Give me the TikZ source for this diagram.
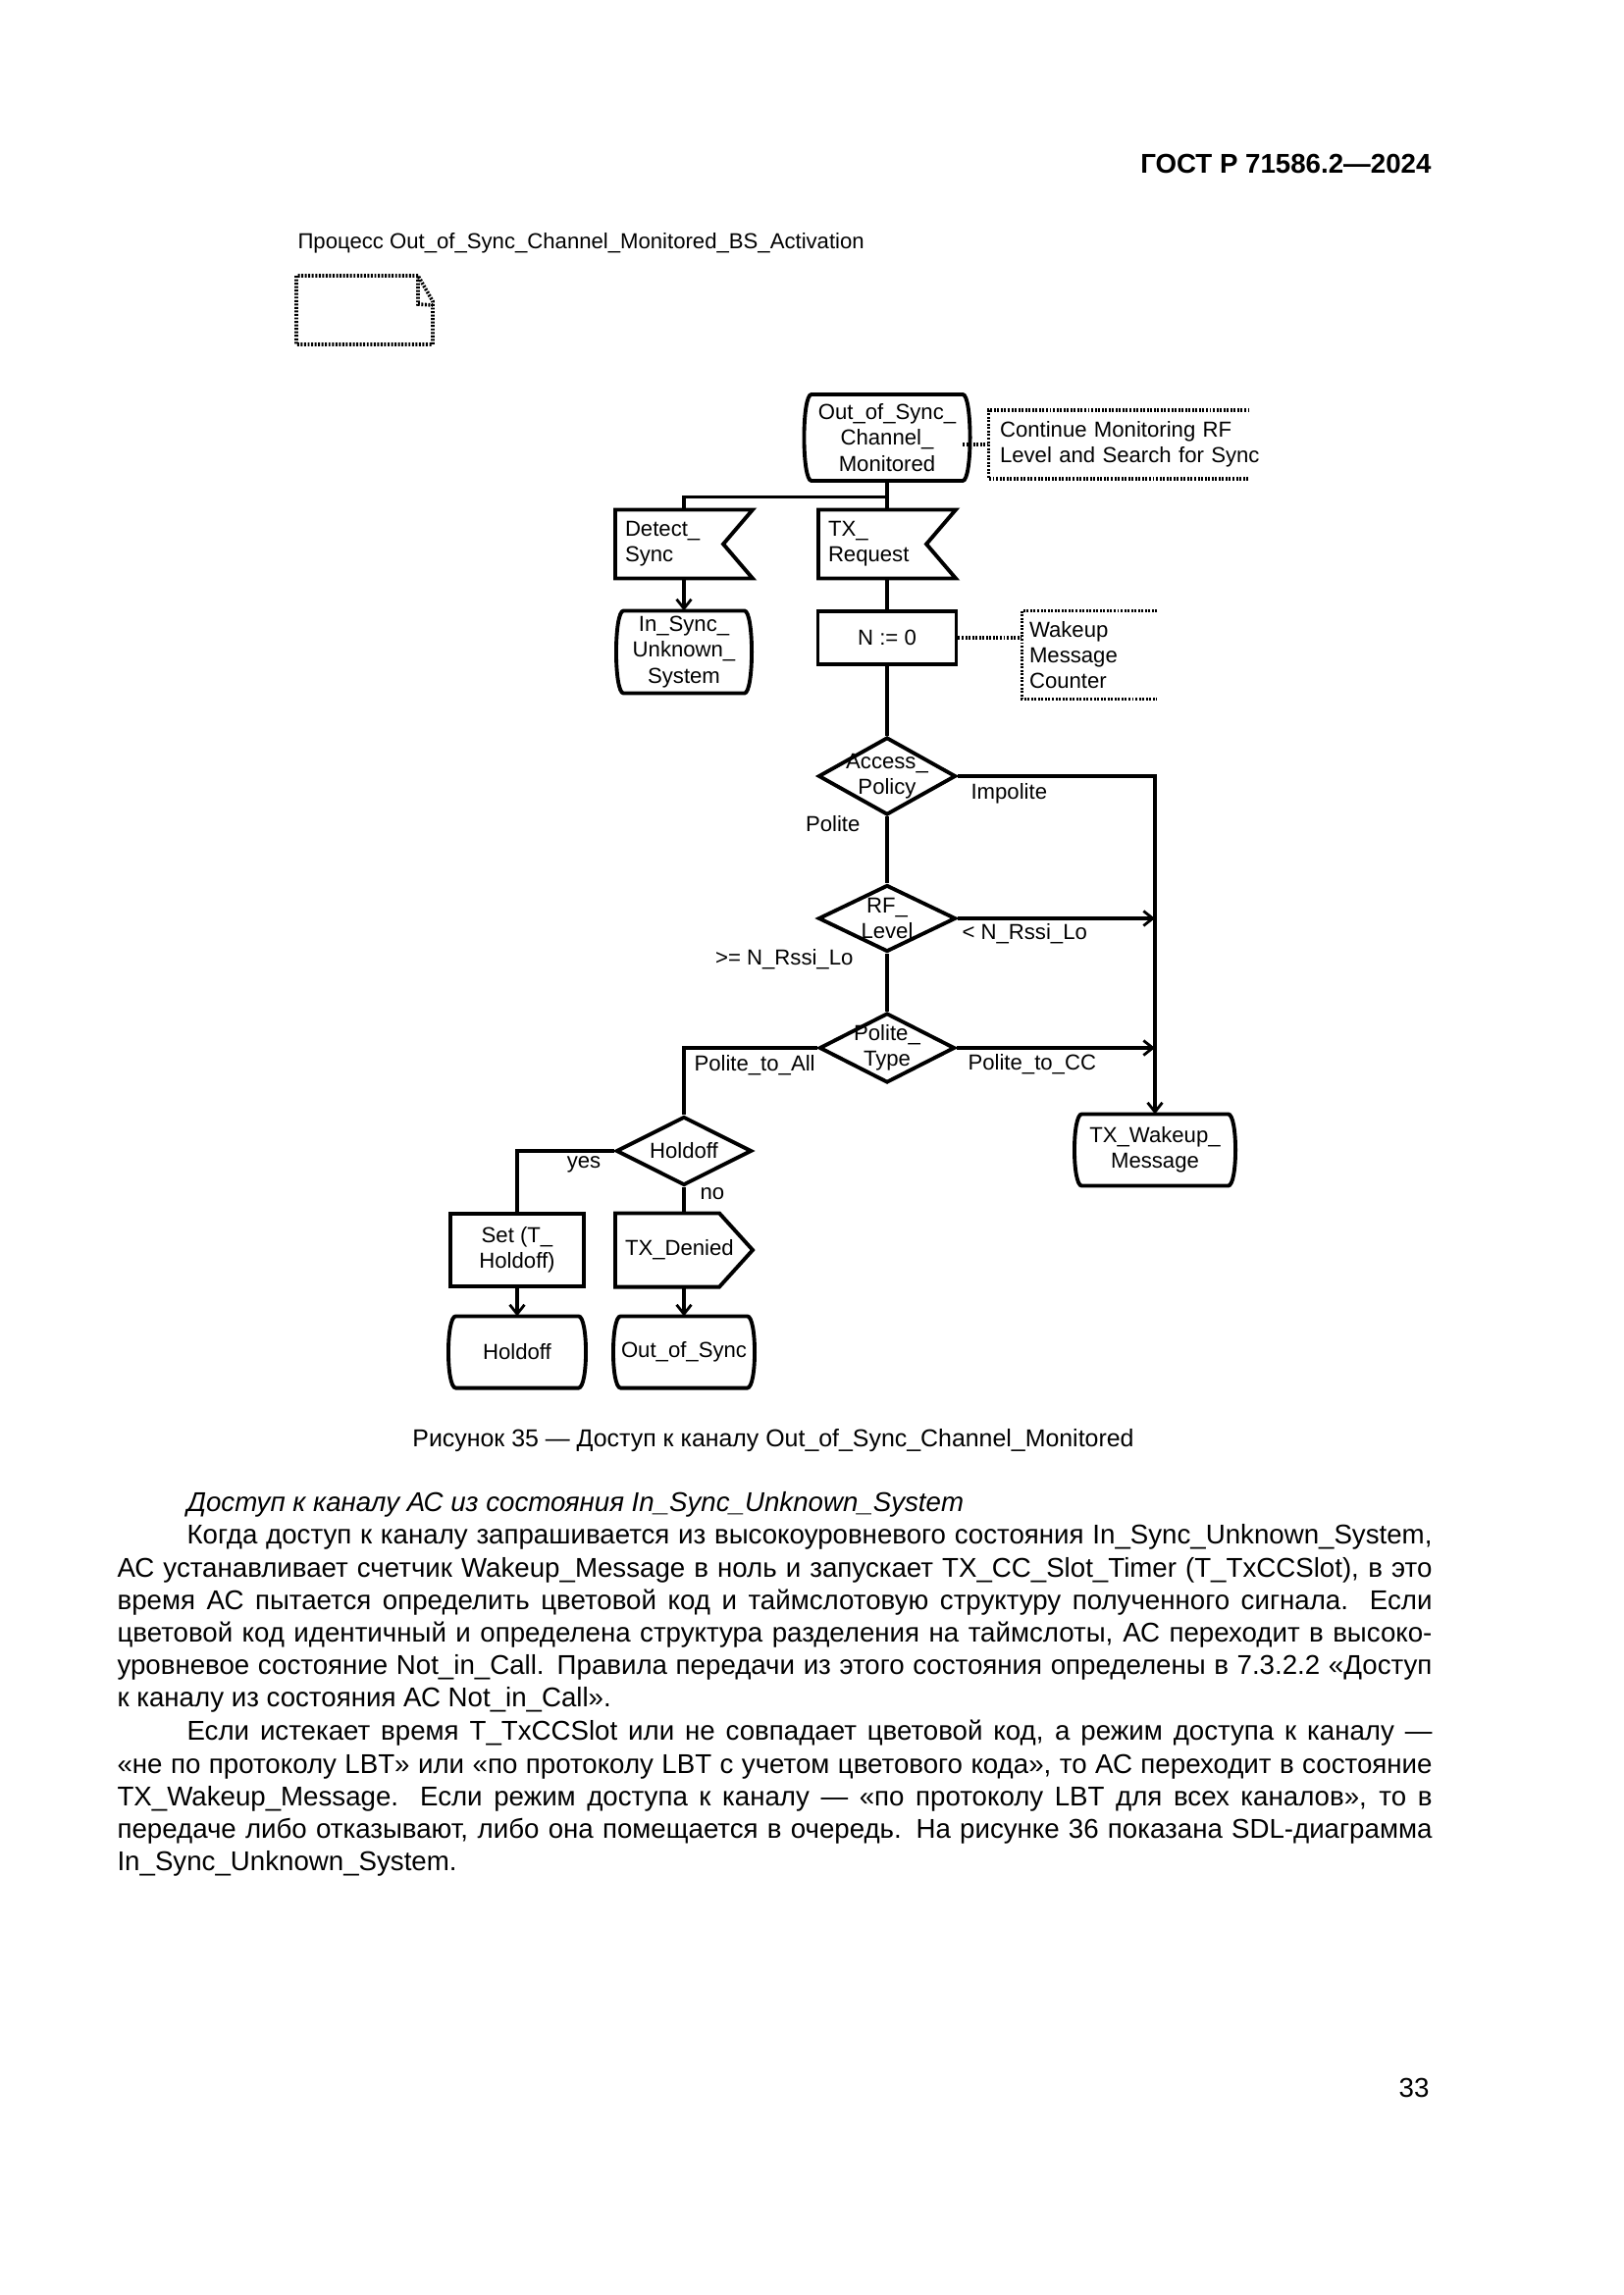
\documentclass[tikz,border=0pt]{standalone}
\usepackage{fontspec}
\setmainfont{Liberation Sans}
\usetikzlibrary{arrows.meta,calc,shapes.geometric}
\newlength\px
\setlength\px{0.127mm}

\begin{document}
\begin{tikzpicture}[x=0.127mm, y=-0.127mm, >={Straight Barb[length=1.2mm, width=1.9mm, line width=1pt]},
  every node/.style={inner sep=0pt, font=\fontsize{8}{9.5}\selectfont},
  shapeline/.style={line width=1.4pt},
  flow/.style={line width=1.1pt},
  dots/.style={line width=1.3pt, dash pattern=on 0.25mm off 0.2mm},
  statebox/.style={rectangle, align=center},
  inbox/.style={rectangle, align=left},
  taskbox/.style={rectangle, draw, shapeline, align=center},
  decision/.style={diamond, draw, shapeline},
  notebox/.style={rectangle, align=left}]
\useasboundingbox (0,0) rectangle (1654,2339);
\fill[white] (0,0) rectangle (1654,2339);

% page head
\node (hdr) [anchor=east, font=\fontsize{10}{12}\selectfont\bfseries] at (1459,167) {ГОСТ Р 71586.2—2024};
\node (proc) [anchor=west] at (303,248) {Процесс Out\_of\_Sync\_Channel\_Monitored\_BS\_Activation};
\draw[dots] (426,281) -- (302,281) -- (302,351) -- (441,351) -- (441,307) -- (426,281) -- (426,310) -- (441,311);

% start state and comment
\node (s0) [statebox, minimum width=153\px, minimum height=87\px] at (904,446) {Out\_of\_Sync\_\\Channel\_\\Monitored};
\node (c0) [notebox, minimum width=300\px, minimum height=69\px, text width=278\px] at (1158,453) {Continue Monitoring RF\\Level and Search for Sync};

% inputs
\node (in1) [inbox, minimum width=139\px, minimum height=69\px, text width=120\px] at (697,554.5) {Detect\_\\Sync};
\node (in2) [inbox, minimum width=139\px, minimum height=69\px, text width=120\px] at (904,554.5) {TX\_\\Request};

\node (s1) [statebox, minimum width=122\px, minimum height=83\px] at (697,664.5) {In\_Sync\_\\Unknown\_\\System};
\node (t1) [taskbox, minimum width=141\px, minimum height=54\px] at (904,650) {N := 0};
\node (c1) [notebox, minimum width=138\px, minimum height=89\px, text width=124\px] at (1111,667.5) {Wakeup\\Message\\Counter};

% decisions
\node (d1) [decision, minimum width=140\px, minimum height=79\px] at (904,791) {};
\node (d1t) [align=center] at (d1) {Access\_\\Policy};
\node (d2) [decision, minimum width=140\px, minimum height=68\px] at (904,936) {};
\node (d2t) [align=center] at (d2) {RF\_\\Level};
\node (d3) [decision, minimum width=138\px, minimum height=71\px] at (904,1068) {};
\node (d3t) [align=center] at (d3) {Polite\_\\Type};
\node (s2) [statebox, minimum width=148\px, minimum height=72\px] at (1177,1172) {TX\_Wakeup\_\\Message};
\node (d4) [decision, minimum width=138\px, minimum height=70\px] at (697,1173) {};
\node (d4t) at (d4) {Holdoff};

% bottom row
\node (t2) [taskbox, minimum width=136\px, minimum height=74\px] at (527,1274) {Set (T\_\\Holdoff)};
\node (o1) [inbox, minimum width=139\px, minimum height=74\px, text width=120\px] at (697,1274) {TX\_Denied};
\node (s3) [statebox, minimum width=124\px, minimum height=72\px] at (527,1378) {Holdoff};
\node (s4) [statebox, minimum width=127\px, minimum height=72\px] at (697,1378) {Out\_of\_Sync};

% outlines
\draw[shapeline] (s0.north west) -- (s0.north east) .. controls ([xshift=10\px]s0.north east) and ([xshift=10\px]s0.south east) .. (s0.south east) -- (s0.south west) .. controls ([xshift=-10\px]s0.south west) and ([xshift=-10\px]s0.north west) .. (s0.north west) -- cycle;
\draw[shapeline] (s1.north west) -- (s1.north east) .. controls ([xshift=10\px]s1.north east) and ([xshift=10\px]s1.south east) .. (s1.south east) -- (s1.south west) .. controls ([xshift=-10\px]s1.south west) and ([xshift=-10\px]s1.north west) .. (s1.north west) -- cycle;
\draw[shapeline] (s2.north west) -- (s2.north east) .. controls ([xshift=10\px]s2.north east) and ([xshift=10\px]s2.south east) .. (s2.south east) -- (s2.south west) .. controls ([xshift=-10\px]s2.south west) and ([xshift=-10\px]s2.north west) .. (s2.north west) -- cycle;
\draw[shapeline] (s3.north west) -- (s3.north east) .. controls ([xshift=10\px]s3.north east) and ([xshift=10\px]s3.south east) .. (s3.south east) -- (s3.south west) .. controls ([xshift=-10\px]s3.south west) and ([xshift=-10\px]s3.north west) .. (s3.north west) -- cycle;
\draw[shapeline] (s4.north west) -- (s4.north east) .. controls ([xshift=10\px]s4.north east) and ([xshift=10\px]s4.south east) .. (s4.south east) -- (s4.south west) .. controls ([xshift=-10\px]s4.south west) and ([xshift=-10\px]s4.north west) .. (s4.north west) -- cycle;
\draw[shapeline] (in1.north west) -- (in1.north east) -- ([xshift=-30\px]in1.east) -- (in1.south east) -- (in1.south west) -- cycle;
\draw[shapeline] (in2.north west) -- (in2.north east) -- ([xshift=-30\px]in2.east) -- (in2.south east) -- (in2.south west) -- cycle;
\draw[shapeline] (o1.north west) -- ([xshift=-34\px]o1.north east) -- (o1.east) -- ([xshift=-34\px]o1.south east) -- (o1.south west) -- cycle;
\draw[dots] ([xshift=266\px]c0.north west) -- (c0.north west) -- (c0.south west) -- ++(266,0);
\draw[dots] ([xshift=138\px]c1.north west) -- (c1.north west) -- (c1.south west) -- ++(138,0);

% connectors
\draw[flow] (s0.south) -- (in2.north);
\draw[flow] (s0.south) -- ++(0,16) -| (in1.north);
\draw[dots] (c0.west -| s0.east) -- (c0.west);
\draw[flow,->] (in1.south) -- (s1.north);
\draw[flow] (in2.south) -- (t1.north);
\draw[dots] (t1.east) -- (t1.east -| c1.west);
\draw[flow] (t1.south) -- (d1.north);
\draw[flow,->] (d1.east) -| (s2.north);
\draw[flow] (d1.south) -- (d2.north);
\draw[flow,->] (d2.east) -- (d2.east -| s2.north);
\draw[flow] (d2.south) -- (d3.north);
\draw[flow,->] (d3.east) -- (d3.east -| s2.north);
\draw[flow] (d3.west) -| (d4.north);
\draw[flow] (d4.west) -| (t2.north);
\draw[flow] (d4.south) -- (o1.north);
\draw[flow,->] (t2.south) -- (s3.north);
\draw[flow,->] (o1.south) -- (s4.north);

% labels
\node (lImp) [anchor=west] at (989,809) {Impolite};
\node (lPol) [anchor=east] at (877,840) {Polite};
\node (lLo) [anchor=west] at (980,952) {< N\_Rssi\_Lo};
\node (lHi) [anchor=east] at (870,978) {>= N\_Rssi\_Lo};
\node (lAll) [anchor=west] at (707,1086) {Polite\_to\_All};
\node (lCC) [anchor=west] at (986,1085) {Polite\_to\_CC};
\node (lYes) at (595,1187) {yes};
\node (lNo) [anchor=west] at (713,1217) {no};

% caption and text
\node (cap) [font=\fontsize{9}{11}\selectfont] at (788,1468) {Рисунок 35 — Доступ к каналу Out\_of\_Sync\_Channel\_Monitored};
\node (head) [anchor=base west, font=\fontsize{10}{12}\selectfont\itshape] at (190,1540) {Доступ к каналу АС из состояния In\_Sync\_Unknown\_System};
\node (par1) [anchor=north west, align=left, font=\fontsize{10}{12}\selectfont] at (119,1550) {\strut\hspace*{71\px}\makebox[1269\px][s]{Когда доступ к каналу запрашивается из высокоуровневого состояния In\_Sync\_Unknown\_System,}\\
\makebox[1340\px][s]{АС устанавливает счетчик Wakeup\_Message в ноль и запускает TX\_CC\_Slot\_Timer (T\_TxCCSlot), в это}\\
\makebox[1340\px][s]{время АС пытается определить цветовой код и таймслотовую структуру полученного сигнала. Если}\\
\makebox[1340\px][s]{цветовой код идентичный и определена структура разделения на таймслоты, АС переходит в высоко-}\\
\makebox[1340\px][s]{уровневое состояние Not\_in\_Call. Правила передачи из этого состояния определены в 7.3.2.2 «Доступ}\\
к каналу из состояния АС Not\_in\_Call».};
\node (par2) [anchor=north west, align=left, font=\fontsize{10}{12}\selectfont] at (119,1750) {\strut\hspace*{71\px}\makebox[1269\px][s]{Если истекает время T\_TxCCSlot или не совпадает цветовой код, а режим доступа к каналу —}\\
\makebox[1340\px][s]{«не по протоколу LBT» или «по протоколу LBT с учетом цветового кода», то АС переходит в состояние}\\
\makebox[1340\px][s]{TX\_Wakeup\_Message. Если режим доступа к каналу — «по протоколу LBT для всех каналов», то в}\\
\makebox[1340\px][s]{передаче либо отказывают, либо она помещается в очередь. На рисунке 36 показана SDL-диаграмма}\\
In\_Sync\_Unknown\_System.};
\node (pg) [anchor=east, font=\fontsize{10}{12}\selectfont] at (1457,2128) {33};
\end{tikzpicture}
\end{document}
